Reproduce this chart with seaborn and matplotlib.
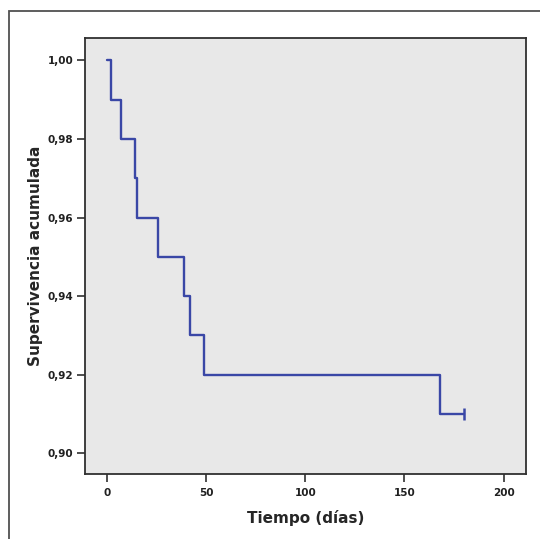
import matplotlib
matplotlib.use('Agg')
import matplotlib.pyplot as plt
import pandas as pd
import seaborn as sns
from matplotlib.patches import Rectangle

# Kaplan-Meier curve
tiempo = [0, 2, 7, 14, 15, 26, 39, 42, 49, 168, 180]
supervivencia = [1.00, 0.99, 0.98, 0.97, 0.96, 0.95, 0.94, 0.93, 0.92, 0.91, 0.91]
censura_t = [180]
censura_s = [0.91]

x_ticks = [0, 50, 100, 150, 200]
y_ticks = [0.90, 0.92, 0.94, 0.96, 0.98, 1.00]
y_ticklabels = ['0,90', '0,92', '0,94', '0,96', '0,98', '1,00']

df = pd.DataFrame({'Tiempo': tiempo, 'Supervivencia': supervivencia})
df_cens = pd.DataFrame({'Tiempo': censura_t, 'Supervivencia': censura_s})

sns.set_style('ticks')
plt.rcParams['font.family'] = ['DejaVu Sans']

line_color = '#3A47A6'
fig = plt.figure(figsize=(5.4, 5.39), dpi=100)
fig.patch.set_facecolor('white')
# outer frame (cropped at right/bottom like the original)
fig.patches.append(Rectangle((8.5 / 540, -0.05), 1.2, 1 - 10.5 / 539 + 0.05,
                             transform=fig.transFigure, fill=False,
                             edgecolor='#505050', linewidth=1.3))

ax = fig.add_axes([84.5 / 540, 1 - 474 / 539, (526 - 84.5) / 540, (474 - 38) / 539])
ax.set_facecolor('#E8E8E8')

sns.lineplot(data=df, x='Tiempo', y='Supervivencia', ax=ax, color=line_color,
             drawstyle='steps-post', linewidth=1.7, estimator=None)
sns.scatterplot(data=df_cens, x='Tiempo', y='Supervivencia', ax=ax, color=line_color,
                marker='|', s=70, linewidth=1.8)

ax.set_xlim(-11.3, 211.3)
ax.set_ylim(0.8947, 1.0057)
ax.set_xticks(x_ticks)
ax.set_xticklabels([str(v) for v in x_ticks])
ax.set_yticks(y_ticks)
ax.set_yticklabels(y_ticklabels)
ax.tick_params(axis='both', direction='out', length=6, width=1.2, color='#303030',
               labelsize=7.5, labelcolor='#202020', pad=2)
ax.tick_params(axis='x', pad=4)
for lab in ax.get_xticklabels() + ax.get_yticklabels():
    lab.set_fontweight('bold')

for s in ax.spines.values():
    s.set_visible(True)
    s.set_color('#303030')
    s.set_linewidth(1.3)

ax.set_xlabel('Tiempo (días)', fontsize=11, fontweight='bold', labelpad=9)
ax.set_ylabel('Supervivencia acumulada', fontsize=11, fontweight='bold', labelpad=3)

fig.savefig('out.png', dpi=100)
